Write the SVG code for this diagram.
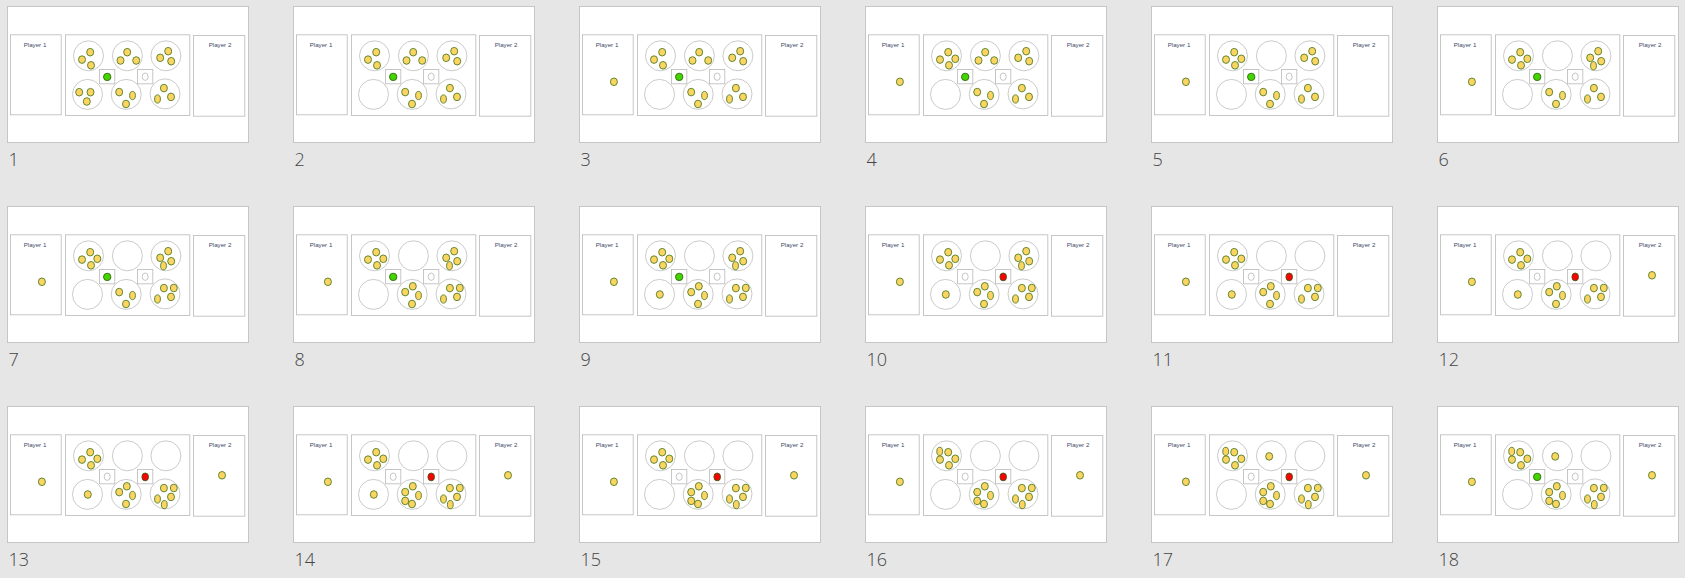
<svg xmlns="http://www.w3.org/2000/svg" xmlns:xlink="http://www.w3.org/1999/xlink" width="1685" height="578" viewBox="0 0 1685 578">
<style>
.frame{fill:#ffffff;stroke:#c6c6c6;stroke-width:1}
.box{fill:#ffffff;stroke:#c0c0c0;stroke-width:0.9}
.pit{fill:#ffffff;stroke:#c4c4c4;stroke-width:0.9}
.seed{fill:#fcd462;stroke:#4f7d22;stroke-width:0.9}
.green{fill:#44d400;stroke:#2f6b12;stroke-width:0.9}
.red{fill:#ff0000;stroke:#3d5a1a;stroke-width:0.9}
.empty{fill:#ffffff;stroke:#b8b8b8;stroke-width:0.8}
.pl{font-family:"Liberation Sans",Arial,sans-serif;font-size:6.2px;fill:#3d4a66;text-anchor:middle}
.num{font-family:"Open Sans","Liberation Sans",sans-serif;font-weight:300;font-size:18px;fill:#444444}
</style>
<defs>
<g id="base">
<rect class="frame" x="0" y="0" width="241" height="136"/>
<rect class="box" x="3" y="28.3" width="50.7" height="80"/>
<rect class="box" x="58" y="28.3" width="124.3" height="80.7"/>
<rect class="box" x="186" y="29" width="51.3" height="80.7"/>
<circle class="pit" cx="81" cy="49.3" r="15"/>
<circle class="pit" cx="119.9" cy="49.3" r="15"/>
<circle class="pit" cx="158.4" cy="49.3" r="15"/>
<circle class="pit" cx="80" cy="87.9" r="15"/>
<circle class="pit" cx="118.7" cy="87.9" r="15"/>
<circle class="pit" cx="157.5" cy="87.4" r="15"/>
<rect class="box" x="92" y="63" width="15.3" height="14.3"/>
<rect class="box" x="130" y="63" width="15.3" height="14.3"/>
</g>
<ellipse id="s" class="seed" cx="0" cy="0" rx="3.5" ry="3.8"/>
<ellipse id="n" class="seed" cx="0" cy="0" rx="2.9" ry="4.1"/>
<g id="gOn"><circle class="green" cx="99.7" cy="70.4" r="3.7"/><ellipse class="empty" cx="137.7" cy="70.2" rx="3" ry="3.7"/></g>
<g id="rOn"><ellipse class="empty" cx="99.7" cy="70.2" rx="3" ry="3.7"/><ellipse class="red" cx="137.7" cy="70.4" rx="3.3" ry="3.9"/></g>
<g id="A3"><use href="#s" x="82.7" y="45.7"/><use href="#s" x="74.5" y="53.1"/><use href="#s" x="83.5" y="58.8"/></g>
<g id="A4"><use href="#A3"/><use href="#s" x="89.8" y="52.3"/></g>
<g id="A5"><use href="#A4"/><use href="#n" x="74.2" y="44.9"/></g>
<g id="B3"><use href="#s" x="119.7" y="45.7"/><use href="#s" x="113" y="54"/><use href="#s" x="128.7" y="54"/></g>
<g id="B1"><use href="#s" x="117.7" y="49.9"/></g>
<g id="C3"><use href="#s" x="160.7" y="44.7"/><use href="#s" x="152.7" y="51.3"/><use href="#s" x="163.7" y="54.7"/></g>
<g id="C4"><use href="#C3"/><use href="#n" x="156" y="59.3"/></g>
<g id="D3"><use href="#s" x="71.7" y="85.7"/><use href="#s" x="83" y="85.7"/><use href="#s" x="79.3" y="95"/></g>
<g id="D1"><use href="#s" x="80.3" y="88"/></g>
<g id="E3"><use href="#s" x="111.7" y="85.6"/><use href="#n" x="125" y="89"/><use href="#s" x="118.5" y="97.5"/></g>
<g id="E4"><use href="#E3"/><use href="#s" x="119.3" y="79.8"/></g>
<g id="E5"><use href="#E4"/><use href="#s" x="111.7" y="94.4"/></g>
<g id="F3"><use href="#s" x="156.4" y="81.6"/><use href="#n" x="150" y="92.5"/><use href="#s" x="163.5" y="90.4"/></g>
<g id="F4"><use href="#F3"/><use href="#s" x="166.3" y="81.5"/></g>
<g id="F5"><use href="#F4"/><use href="#n" x="156.8" y="98.1"/></g>
<g id="P1"><use href="#s" x="34.4" y="75.3"/></g>
<g id="P2"><use href="#s" x="214.5" y="68.8"/></g>
</defs>
<rect x="0" y="0" width="1685" height="578" fill="#e6e6e6"/>

<g id="slide-1" transform="translate(7.5,6.5)"><use href="#base"/><text class="pl" x="27.5" y="40">Player 1</text><text class="pl" x="212.5" y="40">Player 2</text><use href="#A3"/><use href="#B3"/><use href="#C3"/><use href="#D3"/><use href="#E3"/><use href="#F3"/><use href="#gOn"/><text class="num" x="1" y="159">1</text></g>
<g id="slide-2" transform="translate(293.5,6.5)"><use href="#base"/><text class="pl" x="27.5" y="40">Player 1</text><text class="pl" x="212.5" y="40">Player 2</text><use href="#A3"/><use href="#B3"/><use href="#C3"/><use href="#E3"/><use href="#F3"/><use href="#gOn"/><text class="num" x="1" y="159">2</text></g>
<g id="slide-3" transform="translate(579.5,6.5)"><use href="#base"/><text class="pl" x="27.5" y="40">Player 1</text><text class="pl" x="212.5" y="40">Player 2</text><use href="#P1"/><use href="#A3"/><use href="#B3"/><use href="#C3"/><use href="#E3"/><use href="#F3"/><use href="#gOn"/><text class="num" x="1" y="159">3</text></g>
<g id="slide-4" transform="translate(865.5,6.5)"><use href="#base"/><text class="pl" x="27.5" y="40">Player 1</text><text class="pl" x="212.5" y="40">Player 2</text><use href="#P1"/><use href="#A4"/><use href="#B3"/><use href="#C3"/><use href="#E3"/><use href="#F3"/><use href="#gOn"/><text class="num" x="1" y="159">4</text></g>
<g id="slide-5" transform="translate(1151.5,6.5)"><use href="#base"/><text class="pl" x="27.5" y="40">Player 1</text><text class="pl" x="212.5" y="40">Player 2</text><use href="#P1"/><use href="#A4"/><use href="#C3"/><use href="#E3"/><use href="#F3"/><use href="#gOn"/><text class="num" x="1" y="159">5</text></g>
<g id="slide-6" transform="translate(1437.5,6.5)"><use href="#base"/><text class="pl" x="27.5" y="40">Player 1</text><text class="pl" x="212.5" y="40">Player 2</text><use href="#P1"/><use href="#A4"/><use href="#C4"/><use href="#E3"/><use href="#F3"/><use href="#gOn"/><text class="num" x="1" y="159">6</text></g>

<g id="slide-7" transform="translate(7.5,206.5)"><use href="#base"/><text class="pl" x="27.5" y="40">Player 1</text><text class="pl" x="212.5" y="40">Player 2</text><use href="#P1"/><use href="#A4"/><use href="#C4"/><use href="#E3"/><use href="#F4"/><use href="#gOn"/><text class="num" x="1" y="159">7</text></g>
<g id="slide-8" transform="translate(293.5,206.5)"><use href="#base"/><text class="pl" x="27.5" y="40">Player 1</text><text class="pl" x="212.5" y="40">Player 2</text><use href="#P1"/><use href="#A4"/><use href="#C4"/><use href="#E4"/><use href="#F4"/><use href="#gOn"/><text class="num" x="1" y="159">8</text></g>
<g id="slide-9" transform="translate(579.5,206.5)"><use href="#base"/><text class="pl" x="27.5" y="40">Player 1</text><text class="pl" x="212.5" y="40">Player 2</text><use href="#P1"/><use href="#A4"/><use href="#C4"/><use href="#D1"/><use href="#E4"/><use href="#F4"/><use href="#gOn"/><text class="num" x="1" y="159">9</text></g>
<g id="slide-10" transform="translate(865.5,206.5)"><use href="#base"/><text class="pl" x="27.5" y="40">Player 1</text><text class="pl" x="212.5" y="40">Player 2</text><use href="#P1"/><use href="#A4"/><use href="#C4"/><use href="#D1"/><use href="#E4"/><use href="#F4"/><use href="#rOn"/><text class="num" x="1" y="159">10</text></g>
<g id="slide-11" transform="translate(1151.5,206.5)"><use href="#base"/><text class="pl" x="27.5" y="40">Player 1</text><text class="pl" x="212.5" y="40">Player 2</text><use href="#P1"/><use href="#A4"/><use href="#D1"/><use href="#E4"/><use href="#F4"/><use href="#rOn"/><text class="num" x="1" y="159">11</text></g>
<g id="slide-12" transform="translate(1437.5,206.5)"><use href="#base"/><text class="pl" x="27.5" y="40">Player 1</text><text class="pl" x="212.5" y="40">Player 2</text><use href="#P1"/><use href="#P2"/><use href="#A4"/><use href="#D1"/><use href="#E4"/><use href="#F4"/><use href="#rOn"/><text class="num" x="1" y="159">12</text></g>

<g id="slide-13" transform="translate(7.5,406.5)"><use href="#base"/><text class="pl" x="27.5" y="40">Player 1</text><text class="pl" x="212.5" y="40">Player 2</text><use href="#P1"/><use href="#P2"/><use href="#A4"/><use href="#D1"/><use href="#E4"/><use href="#F5"/><use href="#rOn"/><text class="num" x="1" y="159">13</text></g>
<g id="slide-14" transform="translate(293.5,406.5)"><use href="#base"/><text class="pl" x="27.5" y="40">Player 1</text><text class="pl" x="212.5" y="40">Player 2</text><use href="#P1"/><use href="#P2"/><use href="#A4"/><use href="#D1"/><use href="#E5"/><use href="#F5"/><use href="#rOn"/><text class="num" x="1" y="159">14</text></g>
<g id="slide-15" transform="translate(579.5,406.5)"><use href="#base"/><text class="pl" x="27.5" y="40">Player 1</text><text class="pl" x="212.5" y="40">Player 2</text><use href="#P1"/><use href="#P2"/><use href="#A4"/><use href="#E5"/><use href="#F5"/><use href="#rOn"/><text class="num" x="1" y="159">15</text></g>
<g id="slide-16" transform="translate(865.5,406.5)"><use href="#base"/><text class="pl" x="27.5" y="40">Player 1</text><text class="pl" x="212.5" y="40">Player 2</text><use href="#P1"/><use href="#P2"/><use href="#A5"/><use href="#E5"/><use href="#F5"/><use href="#rOn"/><text class="num" x="1" y="159">16</text></g>
<g id="slide-17" transform="translate(1151.5,406.5)"><use href="#base"/><text class="pl" x="27.5" y="40">Player 1</text><text class="pl" x="212.5" y="40">Player 2</text><use href="#P1"/><use href="#P2"/><use href="#A5"/><use href="#B1"/><use href="#E5"/><use href="#F5"/><use href="#rOn"/><text class="num" x="1" y="159">17</text></g>
<g id="slide-18" transform="translate(1437.5,406.5)"><use href="#base"/><text class="pl" x="27.5" y="40">Player 1</text><text class="pl" x="212.5" y="40">Player 2</text><use href="#P1"/><use href="#P2"/><use href="#A5"/><use href="#B1"/><use href="#E5"/><use href="#F5"/><use href="#gOn"/><text class="num" x="1" y="159">18</text></g>
</svg>
